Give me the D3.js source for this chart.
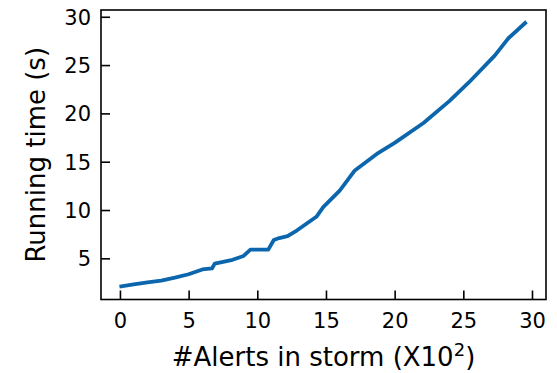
<!DOCTYPE html>
<html>
<head>
<meta charset="utf-8">
<script src="https://cdn.jsdelivr.net/npm/d3@7"></script>
<style>
  body { margin: 0; background: #fff; }
  svg text { font-family: "DejaVu Sans", sans-serif; fill: #000; }
</style>
</head>
<body>
<div id="chart"></div>
<script>
// alerts in storm (x100) and running time (s)
const alerts = [0.1, 1, 2, 3, 4, 5, 6, 6.7, 6.9, 8.2, 9.0, 9.5, 10.8, 11.2, 11.6, 12.2, 12.9, 14.3, 14.8, 16.0, 17.1, 18.7, 20, 22.1, 24, 25.4, 27.3, 28.3, 29.5];
const runtime = [2.1, 2.3, 2.5, 2.7, 3.0, 3.35, 3.85, 3.95, 4.45, 4.85, 5.25, 5.9, 5.9, 6.9, 7.1, 7.3, 7.9, 9.3, 10.3, 12.0, 14.1, 15.8, 16.95, 19.0, 21.3, 23.2, 26.0, 27.8, 29.35];
const xTicks = [0, 5, 10, 15, 20, 25, 30];
const yTicks = [5, 10, 15, 20, 25, 30];

const data = alerts.map((a, i) => ({alerts: a, time: runtime[i]}));

const margin = {top: 10, right: 10, bottom: 73, left: 101};
const width = 546 - margin.left;
const height = 299.5 - margin.top;

const svg = d3.select('#chart')
  .append('svg')
  .attr('width', 557)
  .attr('height', 373)
  .append('g')
  .attr('transform', `translate(${margin.left}, ${margin.top})`);

const x = d3.scaleLinear()
  .domain([-1.38, 31.02])
  .range([0, width]);
const y = d3.scaleLinear()
  .domain([0.74, 30.7])
  .range([height, 0]);

const xAxis = g => g
  .attr('transform', `translate(0, ${height})`)
  .call(d3.axisBottom(x).tickValues(xTicks).tickSize(-9).tickPadding(14))
  .call(g => g.select('.domain').remove());
const yAxis = g => g
  .call(d3.axisLeft(y).tickValues(yTicks).tickSize(-9).tickPadding(10))
  .call(g => g.select('.domain').remove());

svg.append('g').call(xAxis)
  .call(g => g.selectAll('text').attr('font-size', 21).style('font-family', '"DejaVu Sans", sans-serif'))
  .call(g => g.selectAll('line').attr('stroke-width', 1.6));
svg.append('g').call(yAxis)
  .call(g => g.selectAll('text').attr('font-size', 21).attr('dy', '0.36em').style('font-family', '"DejaVu Sans", sans-serif'))
  .call(g => g.selectAll('line').attr('stroke-width', 1.6));

const line = d3.line()
  .x(d => x(d.alerts))
  .y(d => y(d.time));

svg.append('path')
  .datum(data)
  .attr('d', line)
  .attr('fill', 'none')
  .attr('stroke', '#0b66ad')
  .attr('stroke-width', 3.8)
  .attr('stroke-linejoin', 'round')
  .attr('stroke-linecap', 'square');

svg.append('rect')
  .attr('width', width)
  .attr('height', height)
  .attr('fill', 'none')
  .attr('stroke', '#000')
  .attr('stroke-width', 1.6);

const xLabel = svg.append('text')
  .attr('x', width / 2)
  .attr('y', 366 - margin.top)
  .attr('text-anchor', 'middle')
  .attr('font-size', 26);
xLabel.append('tspan').text('#Alerts in storm (X10');
xLabel.append('tspan').attr('dy', -10).attr('font-size', 18).text('2');
xLabel.append('tspan').attr('dy', 10).text(')');

svg.append('text')
  .attr('transform', `translate(${45 - margin.left}, ${height / 2}) rotate(-90)`)
  .attr('text-anchor', 'middle')
  .attr('font-size', 26)
  .text('Running time (s)');
</script>
</body>
</html>
